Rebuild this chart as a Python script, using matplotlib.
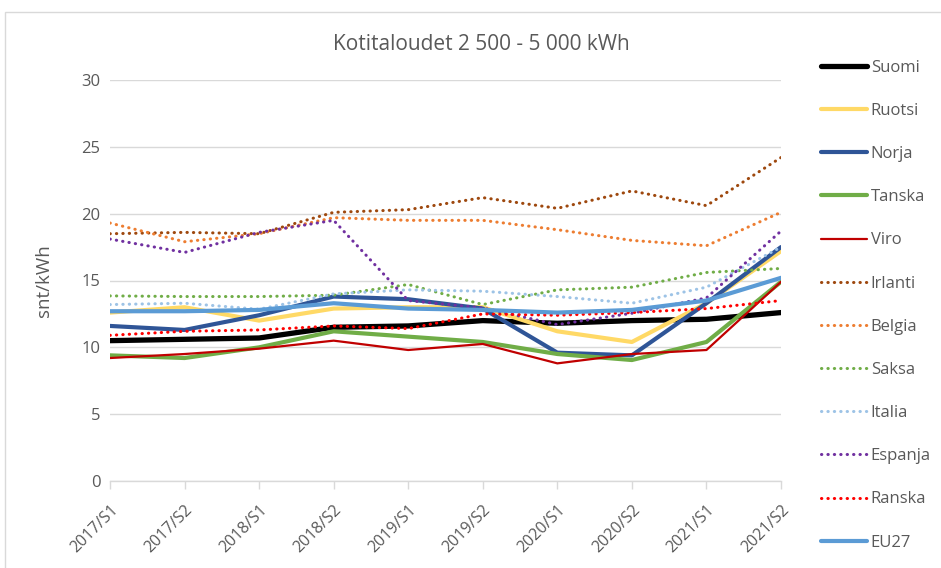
import matplotlib
matplotlib.use("Agg")
import matplotlib.pyplot as plt
from matplotlib.patches import Rectangle

plt.rcParams["font.family"] = ["Open Sans", "DejaVu Sans"]

GRAY_TEXT = "#595959"
GRID = "#D9D9D9"

periods = ["2017/S1", "2017/S2", "2018/S1", "2018/S2", "2019/S1",
           "2019/S2", "2020/S1", "2020/S2", "2021/S1", "2021/S2"]

suomi = [10.5, 10.6, 10.7, 11.5, 11.6, 12.0, 11.8, 12.0, 12.1, 12.6]
ruotsi = [12.6, 13.0, 12.0, 12.9, 13.0, 13.0, 11.2, 10.4, 13.3, 17.2]
norja = [11.6, 11.3, 12.4, 13.8, 13.6, 12.9, 9.6, 9.4, 13.3, 17.5]
tanska = [9.4, 9.2, 10.0, 11.2, 10.8, 10.4, 9.5, 9.05, 10.4, 14.9]
viro = [9.2, 9.5, 9.9, 10.5, 9.8, 10.25, 8.8, 9.5, 9.8, 14.9]
irlanti = [18.5, 18.6, 18.5, 20.1, 20.3, 21.2, 20.4, 21.7, 20.6, 24.2]
belgia = [19.3, 17.9, 18.5, 19.7, 19.5, 19.5, 18.8, 18.0, 17.6, 20.1]
saksa = [13.85, 13.8, 13.8, 13.9, 14.7, 13.2, 14.3, 14.5, 15.6, 15.9]
italia = [13.2, 13.3, 12.85, 14.0, 14.3, 14.2, 13.8, 13.3, 14.5, 17.5]
espanja = [18.1, 17.1, 18.6, 19.5, 13.5, 12.95, 11.7, 12.55, 13.7, 18.7]
ranska = [10.9, 11.2, 11.3, 11.6, 11.4, 12.5, 12.4, 12.6, 12.9, 13.5]
eu27 = [12.7, 12.7, 12.8, 13.3, 12.9, 12.8, 12.6, 12.8, 13.5, 15.2]

DOT = (0, (0.1, 2.0))

series = [
    ("Suomi", suomi, "#000000", 3.8, "-"),
    ("Ruotsi", ruotsi, "#FFD966", 3.0, "-"),
    ("Norja", norja, "#2F5597", 3.0, "-"),
    ("Tanska", tanska, "#70AD47", 3.0, "-"),
    ("Viro", viro, "#C00000", 1.6, "-"),
    ("Irlanti", irlanti, "#9E480E", 2.2, DOT),
    ("Belgia", belgia, "#ED7D31", 2.2, DOT),
    ("Saksa", saksa, "#70AD47", 2.2, DOT),
    ("Italia", italia, "#9DC3E6", 2.2, DOT),
    ("Espanja", espanja, "#7030A0", 2.2, DOT),
    ("Ranska", ranska, "#FF0000", 2.2, DOT),
    ("EU27", eu27, "#5B9BD5", 3.0, "-"),
]

W, H = 941, 568
fig = plt.figure(figsize=(W / 100, H / 100), dpi=100)
ax = fig.add_axes([110 / W, 1 - 481 / H, (781 - 110) / W, (481 - 80) / H])

x = list(range(len(periods)))
for name, vals, color, lw, ls in series:
    ax.plot(x, vals, color=color, lw=lw, linestyle=ls, label=name,
            solid_capstyle="round", dash_capstyle="round", zorder=3)

ax.set_xlim(0, len(periods) - 1)
ax.set_ylim(0, 30)
ax.set_yticks(range(0, 31, 5))
ax.set_xticks(x)
ax.set_xticklabels(periods, rotation=45, ha="right", rotation_mode="anchor")
ax.grid(axis="y", color=GRID, lw=1.0, zorder=0)
for s in ["top", "right", "left"]:
    ax.spines[s].set_visible(False)
ax.spines["bottom"].set_color(GRID)
ax.spines["bottom"].set_linewidth(1.0)
ax.tick_params(axis="x", colors=GRAY_TEXT, labelsize=11.5, length=6,
               color=GRID, width=1.0, pad=9)
ax.tick_params(axis="y", colors=GRAY_TEXT, labelsize=12, length=0, pad=7)
ax.set_ylabel("snt/kWh", color=GRAY_TEXT, fontsize=13.5, labelpad=20)

fig.text(481 / W, 1 - 44 / H, "Kotitaloudet 2 500 - 5 000 kWh",
         ha="center", va="center", fontsize=15, color=GRAY_TEXT)

fig.legend(loc="upper left", bbox_to_anchor=(814 / W, 1 - 53 / H),
           frameon=False, fontsize=12, labelcolor=GRAY_TEXT,
           handlelength=2.8, handletextpad=0.2, labelspacing=1.63,
           borderaxespad=0)

fig.add_artist(Rectangle((5 / W, -0.1), 1.2, 1.1 - 12 / H,
                         transform=fig.transFigure, fill=False,
                         edgecolor="#D9D9D9", lw=1.0))

fig.savefig("out.png", dpi=100)
